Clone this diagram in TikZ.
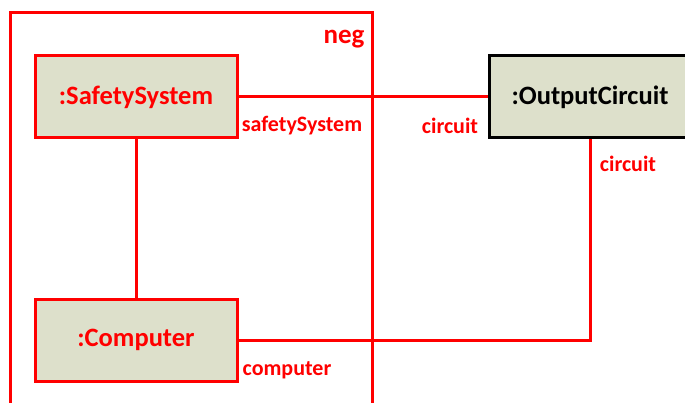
\documentclass[tikz,border=0pt]{standalone}
\usepackage{fontspec}
\setmainfont{Carlito}
\usepackage{xcolor}
\usepackage{tikz}
\usetikzlibrary{positioning}
\definecolor{RojoUML}{RGB}{255,0,0}
\definecolor{GrisCaja}{RGB}{221,224,203}

\begin{document}
\begin{tikzpicture}[x=1pt,y=-1pt,
  caja/.style={draw=RojoUML,line width=3pt,fill=GrisCaja,minimum width=202pt,minimum height=82pt,
    text=RojoUML,font=\fontsize{26.5}{30}\selectfont\bfseries},
  rol/.style={text=RojoUML,inner sep=0pt,font=\fontsize{22}{26}\selectfont\bfseries},
  enlace/.style={RojoUML,line width=3pt}]
  \useasboundingbox (0,0) rectangle (685,403);
  \clip (0,0) rectangle (685,403);
  % fragmento neg
  \draw[enlace] (10,420) |- (372,13) -- (372,420);
  \node[rol,font=\fontsize{27}{31}\selectfont\bfseries] (neg) at (344,39) {neg};
  % lineas de vida
  \node[caja] (ss) at (136,97) {:SafetySystem};
  \node[caja] (comp) at (136,340) {:Computer};
  \node[caja,draw=black,text=black] (oc) at (590,97) {:OutputCircuit};
  \draw[enlace] (ss.east) -- (oc.west);
  \draw[enlace] (ss.south) -- (comp.north);
  \draw[enlace] (comp.east) -| (oc.south);
  % roles
  \node[rol] (rss) at (302,126) {safetySystem};
  \node[rol] (rc1) at (450,126) {circuit};
  \node[rol] (rc2) at (628,164) {circuit};
  \node[rol] (rcomp) at (287,370) {computer};
\end{tikzpicture}
\end{document}
